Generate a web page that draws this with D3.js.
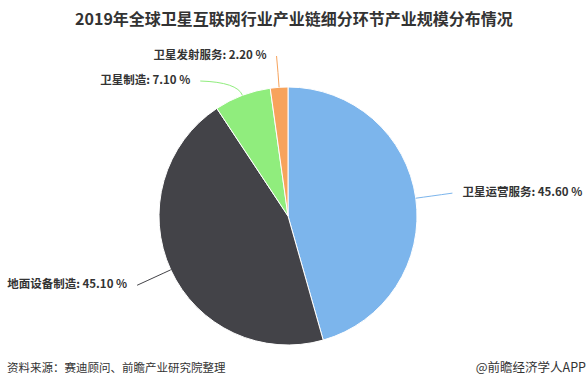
<!DOCTYPE html>
<html><head><meta charset="utf-8">
<script src="https://cdn.jsdelivr.net/npm/d3@7/dist/d3.min.js"></script>
<style>body{margin:0;background:#fff}svg{display:block}</style>
</head><body>
<svg id="c" width="588" height="390"></svg>
<script>
const categories = ["卫星运营服务", "地面设备制造", "卫星制造", "卫星发射服务"];
const values = [45.60, 45.10, 7.10, 2.20];
const colors = ["#7cb5ec", "#434348", "#90ed7d", "#f7a35c"];
const title = "2019年全球卫星互联网行业产业链细分环节产业规模分布情况";
const source = "资料来源：赛迪顾问、前瞻产业研究院整理";
const brand = "@前瞻经济学人APP";

const W = 588, H = 390;
const svg = d3.select("#c");
const font = "'Noto Sans CJK SC','Noto Sans',sans-serif";

svg.append("text").attr("x", W/2).attr("y", 21).attr("text-anchor","middle")
  .attr("dominant-baseline","middle").attr("font-family", font)
  .attr("font-size", 16).attr("font-weight","bold").attr("fill","#333").text(title);

svg.append("text").attr("x", 7).attr("y", 369).attr("dominant-baseline","middle")
  .attr("font-family", font).attr("font-size", 11.5).attr("fill","#333").text(source);
svg.append("text").attr("x", 586).attr("y", 369).attr("text-anchor","end").attr("dominant-baseline","middle")
  .attr("font-family", font).attr("font-size", 12.5).attr("fill","#333").text(brand);

const cx = 288, cy = 216, r = 129, R = 166, pad = 10, topLimit = 56, gap = 25;
const data = categories.map((c,i)=>({name:c, value:values[i], color:colors[i]}));
const pie = d3.pie().value(d=>d.value).sort(null);
const arcs = pie(data);
const arc = d3.arc().innerRadius(0).outerRadius(r);

const g = svg.append("g").attr("transform", `translate(${cx},${cy})`);
g.selectAll("path").data(arcs).join("path")
  .attr("d", arc).attr("fill", d=>d.data.color).attr("stroke","#fff").attr("stroke-width",1);

// label layout
const labs = arcs.map(a=>{
  const m = (a.startAngle + a.endAngle)/2;
  const right = Math.sin(m) >= 0;
  return {a, m, right,
    ex: cx + r*Math.sin(m), ey: cy - r*Math.cos(m),
    nx: cx + R*Math.sin(m), ny: cy - R*Math.cos(m)};
});
["left","right"].forEach(side=>{
  const grp = labs.filter(l=> (side==="right") === l.right).sort((a,b)=>a.ny-b.ny);
  let prev = -Infinity;
  grp.forEach(l=>{
    let y = Math.max(l.ny, topLimit, prev + gap);
    l.y = y; prev = y;
    if (Math.abs(y - l.ny) > 10) {
      const dy = y - cy, R2 = R - 5;
      const dx = Math.sqrt(Math.max(0, R2*R2 - dy*dy));
      l.x = cx + (l.right ? dx : -dx);
    } else l.x = l.nx;
  });
});

labs.forEach(l=>{
  const cxp = cx + (r+14)*Math.sin(l.m), cyp = cy - (r+14)*Math.cos(l.m);
  svg.append("path")
    .attr("d", `M${l.x},${l.y} Q${cxp},${cyp} ${l.ex},${l.ey}`)
    .attr("fill","none").attr("stroke", l.a.data.color).attr("stroke-width",1);
  svg.append("text")
    .attr("x", l.x + (l.right ? pad : -pad)).attr("y", l.y)
    .attr("text-anchor", l.right ? "start" : "end").attr("dominant-baseline","middle")
    .attr("font-family", font).attr("font-size", 11.5).attr("font-weight","bold").attr("fill","#333")
    .text(`${l.a.data.name}: ${l.a.data.value.toFixed(2)} %`);
});
</script>
</body></html>
